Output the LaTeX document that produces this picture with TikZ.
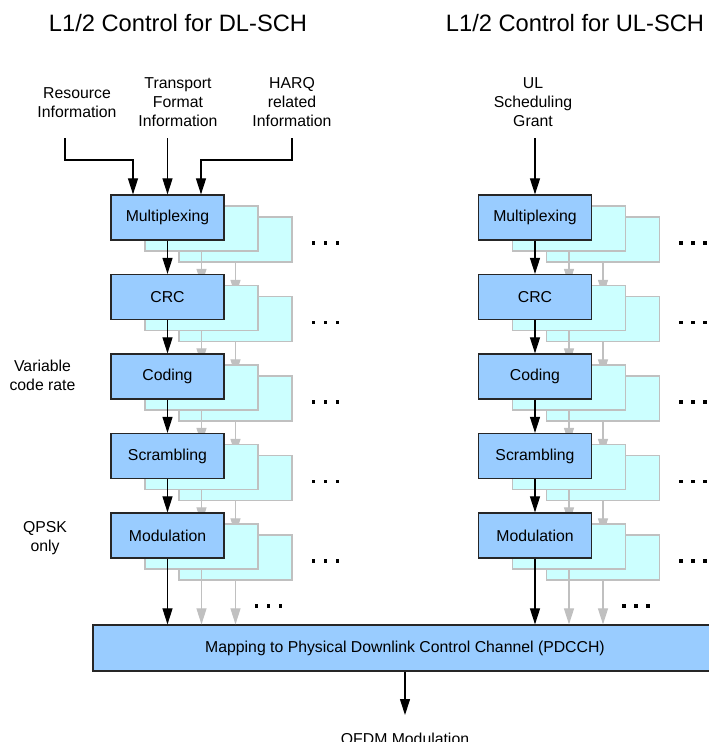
\documentclass[tikz,border=0pt]{standalone}
\usepackage{fontspec}
\setmainfont{Liberation Sans}
\usetikzlibrary{arrows.meta}
\definecolor{mainblue}{HTML}{99CCFF}
\definecolor{cyanbox}{HTML}{CCFFFF}
\definecolor{gline}{HTML}{C0C0C0}
\definecolor{bline}{HTML}{262626}
\begin{document}
\begin{tikzpicture}[x=1pt,y=-1pt,
  mainbox/.style={draw=bline, fill=mainblue, line width=1.2pt, minimum width=113pt, minimum height=45pt, inner sep=0pt, font=\fontsize{15.8}{19}\selectfont},
  copybox/.style={draw=gline, fill=cyanbox, line width=1.2pt, minimum width=113pt, minimum height=45pt, inner sep=0pt},
  barr/.style={-{Triangle[length=16pt,width=10pt,fill=black]}, line width=1.1pt, draw=black},
  garr/.style={-{Triangle[length=16pt,width=10pt,fill=gline]}, line width=1.1pt, draw=gline},
  lbl/.style={align=center, inner sep=0pt, font=\fontsize{15.8}{19}\selectfont},
  ttl/.style={inner sep=0pt, font=\fontsize{23.7}{28}\selectfont},
  dot/.style={fill=black}]
\useasboundingbox (0,0) rectangle (709,742);

% titles
\node[ttl] (tdl) at (178,23) {L1/2 Control for DL-SCH};
\node[ttl] (tul) at (575,23) {L1/2 Control for UL-SCH};

% mapping box
\node[mainbox, minimum width=624pt, minimum height=46pt] (map) at (405,648) {Mapping to Physical Downlink Control Channel (PDCCH)};

% stacks
\foreach \c/\cx in {L/167.5,R/535}{
  % second copies
  \foreach \r in {0,...,4}{
    \pgfmathsetmacro\cy{217.5+79.5*\r}
    \node[copybox] (\c\r c2) at (\cx+68,\cy+22) {};
  }
  \foreach \r in {0,...,3}{
    \pgfmathtruncatemacro\n{\r+1}
    \draw[garr] (\c\r c2.south) -- (\c\n c2.north);
  }
  \draw[garr] (\c4c2.south) -- (\c4c2.south |- map.north);
  % first copies
  \foreach \r in {0,...,4}{
    \pgfmathsetmacro\cy{217.5+79.5*\r}
    \node[copybox] (\c\r c1) at (\cx+34,\cy+11) {};
  }
  \foreach \r in {0,...,3}{
    \pgfmathtruncatemacro\n{\r+1}
    \draw[garr] (\c\r c1.south) -- (\c\n c1.north);
  }
  \draw[garr] (\c4c1.south) -- (\c4c1.south |- map.north);
  % main boxes
  \foreach \r/\t in {0/Multiplexing,1/CRC,2/Coding,3/Scrambling,4/Modulation}{
    \pgfmathsetmacro\cy{217.5+79.5*\r}
    \node[mainbox] (\c\r m) at (\cx,\cy) {\t};
    \foreach \dx in {146,158,170}{
      \fill[dot] (\cx+\dx-1.7,\cy+25.5-1.7) rectangle ++(3.4,3.4);
    }
  }
  \foreach \r in {0,...,3}{
    \pgfmathtruncatemacro\n{\r+1}
    \draw[barr] (\c\r m.south) -- (\c\n m.north);
  }
  \draw[barr] (\c4m.south) -- (\c4m.south |- map.north);
  \foreach \dx in {89,101,113}{
    \fill[dot] (\cx+\dx-1.7,606-1.7) rectangle ++(3.4,3.4);
  }
}

% input labels
\node[lbl] (res) at (77,102.5) {Resource\\Information};
\node[lbl] (tfi) at (178,102) {Transport\\Format\\Information};
\node[lbl] (harq) at (292,102) {HARQ\\related\\Information};
\node[lbl] (ulg) at (533,102) {UL\\Scheduling\\Grant};

\coordinate (resA) at (65,138);
\coordinate (resB) at (65,160);
\coordinate (resC) at (133,160);
\draw[barr] (resA) -- (resB) -- (resC) -- (resC |- L0m.north);

\coordinate (tfiA) at (167.5,138);
\draw[barr] (tfiA) -- (L0m.north);

\coordinate (harqA) at (292,138);
\coordinate (harqB) at (292,160);
\coordinate (harqC) at (201,160);
\draw[barr] (harqA) -- (harqB) -- (harqC) -- (harqC |- L0m.north);

\coordinate (ulgA) at (535,138);
\draw[barr] (ulgA) -- (R0m.north);

% side labels
\node[lbl] (vcr) at (42.5,375) {Variable\\code rate};
\node[lbl] (qpsk) at (45,538) {QPSK\\only};

% output
\coordinate (outE) at (405,715);
\draw[barr] (map.south -| outE) -- (outE);
\node[lbl, anchor=base] (ofdm) at (405,744) {OFDM Modulation};
\end{tikzpicture}
\end{document}
